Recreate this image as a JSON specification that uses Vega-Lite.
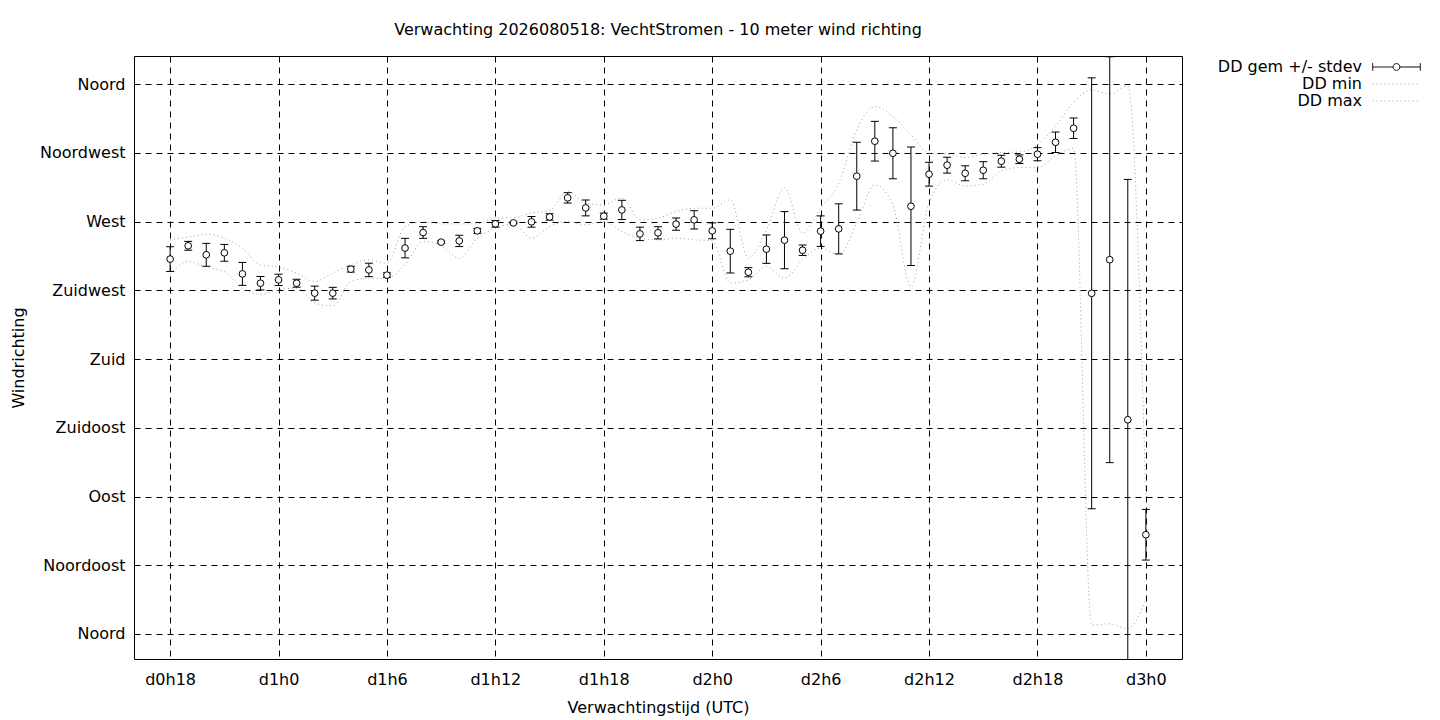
{
  "$schema": "https://vega.github.io/schema/vega-lite/v6.json",
  "width": 1048,
  "height": 603,
  "autosize": {"type": "none"},
  "padding": {"left": 134, "top": 56, "right": 258, "bottom": 61},
  "background": "white",
  "config": {
    "font": "DejaVu Sans",
    "view": {"stroke": "black", "strokeWidth": 1},
    "axis": {
      "labelFont": "DejaVu Sans", "labelFontSize": 16, "labelColor": "black",
      "titleFont": "DejaVu Sans", "titleFontSize": 16, "titleFontWeight": "normal", "titleColor": "black",
      "domain": false, "ticks": false, "grid": true, "gridColor": "black", "gridDash": [6, 5], "gridWidth": 1, "gridOpacity": 1
    }
  },
  "title": {"text": "Verwachting 2026080518: VechtStromen - 10 meter wind richting", "font": "DejaVu Sans", "fontSize": 16, "fontWeight": "normal", "color": "black", "offset": 18, "anchor": "middle"},
  "data": {"values": [
    {"t": 18, "gem": 245.5, "lo": 237.4, "hi": 253.6, "min": 235.8, "max": 258.1},
    {"t": 19, "gem": 254.2, "lo": 251.3, "hi": 257.1, "min": 243.9, "max": 259.9},
    {"t": 20, "gem": 248.3, "lo": 240.8, "hi": 255.8, "min": 240.2, "max": 261.8},
    {"t": 21, "gem": 249.6, "lo": 244.1, "hi": 255.1, "min": 237.3, "max": 259.2},
    {"t": 22, "gem": 235.8, "lo": 228.3, "hi": 243.3, "min": 226.5, "max": 252.7},
    {"t": 23, "gem": 229.7, "lo": 225.3, "hi": 234.1, "min": 222.5, "max": 241.7},
    {"t": 24, "gem": 231.9, "lo": 228.2, "hi": 235.6, "min": 225.4, "max": 240.2},
    {"t": 25, "gem": 229.7, "lo": 227.1, "hi": 232.3, "min": 226.5, "max": 236.3},
    {"t": 26, "gem": 223.2, "lo": 218.6, "hi": 227.8, "min": 216.7, "max": 230.8},
    {"t": 27, "gem": 223.2, "lo": 219.4, "hi": 227.0, "min": 214.9, "max": 236.3},
    {"t": 28, "gem": 238.9, "lo": 237.0, "hi": 240.8, "min": 230.8, "max": 241.7},
    {"t": 29, "gem": 238.4, "lo": 234.0, "hi": 242.8, "min": 233.0, "max": 245.0},
    {"t": 30, "gem": 235.0, "lo": 233.5, "hi": 236.5, "min": 233.0, "max": 242.8},
    {"t": 31, "gem": 252.7, "lo": 246.3, "hi": 259.1, "min": 241.7, "max": 266.8},
    {"t": 32, "gem": 262.9, "lo": 259.1, "hi": 266.7, "min": 257.0, "max": 269.9},
    {"t": 33, "gem": 256.6, "lo": 255.8, "hi": 257.4, "min": 254.2, "max": 268.6},
    {"t": 34, "gem": 257.4, "lo": 253.7, "hi": 261.1, "min": 246.1, "max": 268.6},
    {"t": 35, "gem": 264.0, "lo": 262.4, "hi": 265.6, "min": 259.2, "max": 268.6},
    {"t": 36, "gem": 268.6, "lo": 266.4, "hi": 270.8, "min": 265.5, "max": 272.5},
    {"t": 37, "gem": 269.2, "lo": 268.7, "hi": 269.7, "min": 268.5, "max": 272.5},
    {"t": 38, "gem": 269.9, "lo": 266.4, "hi": 273.4, "min": 259.2, "max": 275.7},
    {"t": 39, "gem": 273.1, "lo": 271.0, "hi": 275.2, "min": 266.8, "max": 277.1},
    {"t": 40, "gem": 285.6, "lo": 282.2, "hi": 289.0, "min": 270.1, "max": 290.0},
    {"t": 41, "gem": 279.0, "lo": 273.8, "hi": 284.2, "min": 267.9, "max": 282.1},
    {"t": 42, "gem": 273.6, "lo": 271.6, "hi": 275.6, "min": 270.1, "max": 281.0},
    {"t": 43, "gem": 277.7, "lo": 271.4, "hi": 284.0, "min": 263.5, "max": 285.6},
    {"t": 44, "gem": 262.0, "lo": 257.6, "hi": 266.4, "min": 259.2, "max": 271.2},
    {"t": 45, "gem": 262.7, "lo": 258.7, "hi": 266.7, "min": 258.1, "max": 272.3},
    {"t": 46, "gem": 268.4, "lo": 264.4, "hi": 272.4, "min": 259.2, "max": 276.6},
    {"t": 47, "gem": 271.2, "lo": 265.2, "hi": 277.2, "min": 258.1, "max": 278.8},
    {"t": 48, "gem": 264.0, "lo": 258.8, "hi": 269.2, "min": 257.4, "max": 278.8},
    {"t": 49, "gem": 250.7, "lo": 236.4, "hi": 265.0, "min": 229.7, "max": 284.3},
    {"t": 50, "gem": 236.9, "lo": 233.9, "hi": 239.9, "min": 231.9, "max": 246.3},
    {"t": 51, "gem": 252.0, "lo": 242.7, "hi": 261.3, "min": 240.6, "max": 264.6},
    {"t": 52, "gem": 257.9, "lo": 239.2, "hi": 276.6, "min": 233.0, "max": 292.1},
    {"t": 53, "gem": 251.3, "lo": 247.9, "hi": 254.7, "min": 245.0, "max": 262.5},
    {"t": 54, "gem": 263.8, "lo": 253.8, "hi": 273.8, "min": 252.7, "max": 278.8},
    {"t": 55, "gem": 265.3, "lo": 248.9, "hi": 281.7, "min": 248.3, "max": 295.2},
    {"t": 56, "gem": 299.8, "lo": 277.6, "hi": 322.0, "min": 269.0, "max": 330.1},
    {"t": 57, "gem": 322.7, "lo": 309.7, "hi": 335.7, "min": 294.1, "max": 345.3},
    {"t": 58, "gem": 314.8, "lo": 298.1, "hi": 331.5, "min": 281.0, "max": 338.8},
    {"t": 59, "gem": 280.1, "lo": 241.3, "hi": 318.9, "min": 227.5, "max": 326.8},
    {"t": 60, "gem": 301.1, "lo": 293.3, "hi": 308.9, "min": 282.3, "max": 314.8},
    {"t": 61, "gem": 307.0, "lo": 301.8, "hi": 312.2, "min": 297.4, "max": 314.4},
    {"t": 62, "gem": 301.7, "lo": 296.8, "hi": 306.6, "min": 293.4, "max": 312.0},
    {"t": 63, "gem": 303.7, "lo": 298.1, "hi": 309.3, "min": 294.5, "max": 314.2},
    {"t": 64, "gem": 309.6, "lo": 305.7, "hi": 313.5, "min": 303.3, "max": 315.2},
    {"t": 65, "gem": 310.9, "lo": 308.1, "hi": 313.7, "min": 305.4, "max": 315.7},
    {"t": 66, "gem": 314.2, "lo": 309.9, "hi": 318.5, "min": 305.4, "max": 320.1},
    {"t": 67, "gem": 322.0, "lo": 315.3, "hi": 328.7, "min": 313.1, "max": 332.7},
    {"t": 68, "gem": 331.2, "lo": 324.5, "hi": 337.9, "min": 318.0, "max": 348.0},
    {"t": 69, "gem": 223.1, "lo": 82.0, "hi": 364.2, "min": 5.8, "max": 356.3},
    {"t": 70, "gem": 245.1, "lo": 112.2, "hi": 378.0, "min": 6.7, "max": 353.7},
    {"t": 71, "gem": 140.3, "lo": -17.1, "hi": 297.7, "min": 3.5, "max": 358.9},
    {"t": 72, "gem": 65.0, "lo": 48.4, "hi": 81.6, "min": 22.6, "max": 88.0}
  ]},
  "encoding": {
    "x": {
      "field": "t", "type": "quantitative",
      "scale": {"domain": [16, 74], "nice": false, "zero": false},
      "axis": {
        "values": [18, 24, 30, 36, 42, 48, 54, 60, 66, 72],
        "labelExpr": "'d' + floor(datum.value / 24) + 'h' + (datum.value % 24)",
        "title": "Verwachtingstijd (UTC)", "labelPadding": 12, "titlePadding": 12
      }
    }
  },
  "layer": [
    {
      "mark": {"type": "line", "interpolate": "monotone", "strokeDash": [1, 3], "strokeWidth": 1, "clip": true},
      "encoding": {
        "y": {
          "field": "min", "type": "quantitative",
          "scale": {"domain": [-16.4, 378.5], "nice": false, "zero": false},
          "axis": {
            "values": [0, 45, 90, 135, 180, 225, 270, 315, 360],
            "labelExpr": "['Noord','Noordoost','Oost','Zuidoost','Zuid','Zuidwest','West','Noordwest','Noord'][round(datum.value / 45)]",
            "title": "Windrichting", "labelPadding": 9, "titlePadding": 13
          }
        },
        "color": {
          "datum": "DD min", "type": "nominal",
          "scale": {"domain": ["DD gem +/- stdev", "DD min", "DD max"], "range": ["black", "#a0a0a0", "#a0a0a0"]},
          "legend": {
            "orient": "none", "legendX": 1253.5, "legendY": 2, "title": null,
            "symbolSize": 289, "rowPadding": 0, "padding": 0,
            "labelAlign": "right", "labelOffset": -43.5, "labelLimit": 300,
            "labelFont": "DejaVu Sans", "labelFontSize": 16, "labelColor": "black",
            "symbolStrokeWidth": 1, "symbolType": "M-2.8,0H2.8",
            "encode": {
              "symbols": {
                "update": {
                  "shape": {"signal": "datum.label === 'DD gem +/- stdev' ? 'M-2.8,0H-0.4M0.4,0H2.8M-2.8,-0.45V0.45M2.8,-0.45V0.45M0.4,0A0.4,0.4 0 1 1 -0.4,0A0.4,0.4 0 1 1 0.4,0' : 'M-2.8,0H2.8'"},
                  "strokeDash": {"signal": "datum.label === 'DD gem +/- stdev' ? [1, 0] : [1, 3]"},
                  "stroke": {"signal": "datum.label === 'DD gem +/- stdev' ? 'black' : '#a0a0a0'"},
                  "fill": {"value": "transparent"},
                  "opacity": {"value": 1},
                  "strokeWidth": {"value": 1}
                }
              }
            }
          }
        }
      }
    },
    {
      "mark": {"type": "line", "interpolate": "monotone", "strokeDash": [1, 3], "strokeWidth": 1, "clip": true},
      "encoding": {
        "y": {"field": "max", "type": "quantitative"},
        "color": {"datum": "DD max", "type": "nominal"}
      }
    },
    {
      "mark": {"type": "rule", "strokeWidth": 1, "clip": true},
      "encoding": {
        "y": {"field": "lo", "type": "quantitative"},
        "y2": {"field": "hi"},
        "color": {"datum": "DD gem +/- stdev", "type": "nominal"}
      }
    },
    {
      "mark": {"type": "tick", "orient": "horizontal", "size": 8, "thickness": 1, "color": "black", "opacity": 1, "clip": true},
      "encoding": {"y": {"field": "hi", "type": "quantitative"}}
    },
    {
      "mark": {"type": "tick", "orient": "horizontal", "size": 8, "thickness": 1, "color": "black", "opacity": 1, "clip": true},
      "encoding": {"y": {"field": "lo", "type": "quantitative"}}
    },
    {
      "mark": {"type": "point", "shape": "circle", "size": 45, "filled": true, "fill": "white", "stroke": "black", "strokeWidth": 1, "opacity": 1, "clip": true},
      "encoding": {"y": {"field": "gem", "type": "quantitative"}}
    }
  ]
}
